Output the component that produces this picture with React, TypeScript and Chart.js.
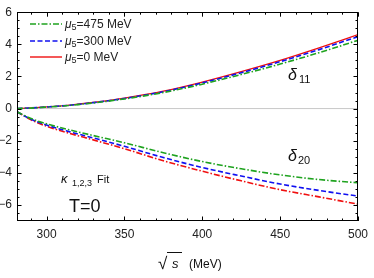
import React, { useEffect, useRef } from "react";
import { Chart, registerables } from "chart.js";

Chart.register(...registerables);

const sqrtS = [281, 290, 300, 315, 330, 350, 375, 400, 425, 450, 475, 500];
const d11Mu0 = [0, 0.04, 0.1, 0.22, 0.38, 0.65, 1.08, 1.65, 2.3, 3.0, 3.78, 4.6];
const d11Mu300 = [0, 0.04, 0.1, 0.21, 0.37, 0.63, 1.05, 1.6, 2.23, 2.92, 3.67, 4.48];
const d11Mu475 = [0, 0.03, 0.09, 0.2, 0.35, 0.6, 1.0, 1.52, 2.12, 2.77, 3.48, 4.25];
const d20Mu0 = [-0.2, -0.7, -1.1, -1.55, -1.95, -2.5, -3.25, -3.9, -4.5, -5.05, -5.5, -5.95];
const d20Mu300 = [-0.2, -0.67, -1.03, -1.45, -1.83, -2.35, -3.05, -3.67, -4.2, -4.7, -5.1, -5.45];
const d20Mu475 = [-0.2, -0.62, -0.95, -1.33, -1.68, -2.13, -2.75, -3.3, -3.75, -4.13, -4.42, -4.62];

const xTicks = [300, 350, 400, 450, 500];
const yTicks = [-6, -4, -2, 0, 2, 4, 6];
const legendLabels = ["475", "300", "0"];

const GREEN = "#1fa31f";
const BLUE = "#1010f0";
const RED = "#f01010";
const DASHDOT = [6, 2, 1.5, 2];
const DASH = [5, 2.5];
const FONT = '"Liberation Sans", Arial, sans-serif';

const pts = (ys: number[]) => sqrtS.map((x, i) => ({ x, y: ys[i] }));

const decorPlugin = {
  id: "decor",
  beforeDatasetsDraw(chart: any) {
    const { ctx, chartArea: a, scales } = chart;
    const y0 = scales.y.getPixelForValue(0);
    ctx.save();
    ctx.strokeStyle = "#c8c8c8";
    ctx.lineWidth = 1;
    ctx.beginPath();
    ctx.moveTo(a.left, y0);
    ctx.lineTo(a.right, y0);
    ctx.stroke();
    ctx.restore();
  },
  afterDraw(chart: any) {
    const { ctx, chartArea: a, scales } = chart;
    const xs = scales.x;
    const ys = scales.y;
    ctx.save();
    // frame
    ctx.strokeStyle = "#000";
    ctx.lineWidth = 1;
    ctx.strokeRect(Math.round(a.left) + 0.5, Math.round(a.top) + 0.5, Math.round(a.right - a.left) - 1, Math.round(a.bottom - a.top) - 1);
    // x ticks
    ctx.beginPath();
    for (let v = 290; v <= 500; v += 10) {
      const px = Math.round(xs.getPixelForValue(v)) + 0.5;
      const len = v % 50 === 0 ? 4.5 : 2.5;
      ctx.moveTo(px, a.bottom);
      ctx.lineTo(px, a.bottom - len);
      ctx.moveTo(px, a.top);
      ctx.lineTo(px, a.top + len);
    }
    for (let v = -6.5; v <= 6; v += 0.5) {
      const py = Math.round(ys.getPixelForValue(v)) + 0.5;
      const len = Math.abs(v % 2) < 1e-9 ? 4.5 : 2.5;
      ctx.moveTo(a.left, py);
      ctx.lineTo(a.left + len, py);
      ctx.moveTo(a.right, py);
      ctx.lineTo(a.right - len, py);
    }
    ctx.stroke();

    // legend
    const rows = [
      { c: GREEN, d: DASHDOT, y: 24 },
      { c: BLUE, d: DASH, y: 41 },
      { c: RED, d: [], y: 57 },
    ];
    rows.forEach((r, i) => {
      ctx.strokeStyle = r.c;
      ctx.lineWidth = 1.4;
      ctx.setLineDash(r.d);
      ctx.beginPath();
      ctx.moveTo(30, r.y);
      ctx.lineTo(62, r.y);
      ctx.stroke();
      ctx.setLineDash([]);
      ctx.fillStyle = "#222";
      ctx.textBaseline = "alphabetic";
      ctx.textAlign = "left";
      ctx.font = `italic 12px ${FONT}`;
      ctx.fillText("μ", 65, r.y + 4);
      let x = 65 + ctx.measureText("μ").width;
      ctx.font = `9px ${FONT}`;
      ctx.fillText("5", x, r.y + 6);
      x += ctx.measureText("5").width;
      ctx.font = `12px ${FONT}`;
      ctx.fillText(`=${legendLabels[i]} MeV`, x, r.y + 4);
    });

    // annotations
    ctx.fillStyle = "#111";
    ctx.font = `italic 16px ${FONT}`;
    ctx.fillText("δ", 288, 80);
    ctx.font = `11px ${FONT}`;
    ctx.fillText("11", 299, 83);
    ctx.font = `italic 16px ${FONT}`;
    ctx.fillText("δ", 288, 161);
    ctx.font = `11px ${FONT}`;
    ctx.fillText("20", 298, 164);

    ctx.font = `italic 13px ${FONT}`;
    ctx.fillText("κ", 61, 183);
    ctx.font = `9px ${FONT}`;
    ctx.fillText("1,2,3", 72, 186);
    ctx.font = `11px ${FONT}`;
    ctx.fillText("Fit", 97, 183);

    ctx.font = `18px ${FONT}`;
    ctx.fillText("T=0", 69, 212);

    // x title
    ctx.font = `17px ${FONT}`;
    ctx.fillText("√", 158, 269);
    ctx.strokeStyle = "#111";
    ctx.lineWidth = 1;
    ctx.beginPath();
    ctx.moveTo(167, 252.5);
    ctx.lineTo(182, 252.5);
    ctx.stroke();
    ctx.font = `italic 13px ${FONT}`;
    ctx.fillText("s", 172, 268);
    ctx.font = `12px ${FONT}`;
    ctx.fillText("(MeV)", 189, 268);
    ctx.restore();
  },
};

export default function App() {
  const ref = useRef<HTMLCanvasElement>(null);
  useEffect(() => {
    if (!ref.current) return;
    const mk = (label: string, ys: number[], color: string, dash: number[], w: number) => ({
      label,
      data: pts(ys),
      borderColor: color,
      backgroundColor: color,
      borderDash: dash,
      borderWidth: w,
      pointRadius: 0,
      fill: false,
      cubicInterpolationMode: "monotone" as const,
    });
    const chart = new Chart(ref.current, {
      type: "line",
      data: {
        datasets: [
          mk("d20 475", d20Mu475, GREEN, DASHDOT, 1.6),
          mk("d20 300", d20Mu300, BLUE, DASH, 1.6),
          mk("d20 0", d20Mu0, RED, DASHDOT, 1.6),
          mk("d11 475", d11Mu475, GREEN, DASHDOT, 1.6),
          mk("d11 300", d11Mu300, BLUE, DASH, 1.6),
          mk("d11 0", d11Mu0, RED, [], 1.3),
        ],
      },
      options: {
        animation: false,
        responsive: false,
        maintainAspectRatio: false,
        layout: { padding: { left: 0, right: 12, top: 8, bottom: 0 } },
        plugins: { legend: { display: false }, tooltip: { enabled: false } },
        scales: {
          x: {
            type: "linear",
            min: 281,
            max: 500,
            grid: { display: false, drawTicks: false },
            border: { display: false },
            afterBuildTicks: (s: any) => {
              s.ticks = xTicks.map((v) => ({ value: v }));
            },
            afterFit: (s: any) => {
              s.height = 57;
            },
            ticks: {
              color: "#222",
              font: { family: FONT, size: 12 },
              padding: 6,
              maxRotation: 0,
              autoSkip: false,
            },
          },
          y: {
            type: "linear",
            min: -7,
            max: 6,
            grid: { display: false, drawTicks: false },
            border: { display: false },
            afterBuildTicks: (s: any) => {
              s.ticks = yTicks.map((v) => ({ value: v }));
            },
            afterFit: (s: any) => {
              s.width = 17;
            },
            ticks: {
              color: "#222",
              font: { family: FONT, size: 12 },
              padding: 5,
              autoSkip: false,
              callback: (v: any) => (Number(v) < 0 ? "−" + Math.abs(Number(v)) : String(v)),
            },
          },
        },
      },
      plugins: [decorPlugin],
    });
    return () => chart.destroy();
  }, []);
  return (
    <div style={{ position: "fixed", left: 0, top: 0, width: 374, height: 278, background: "#fff" }}>
      <canvas ref={ref} width={374} height={278} style={{ width: 374, height: 278 }} />
    </div>
  );
}
